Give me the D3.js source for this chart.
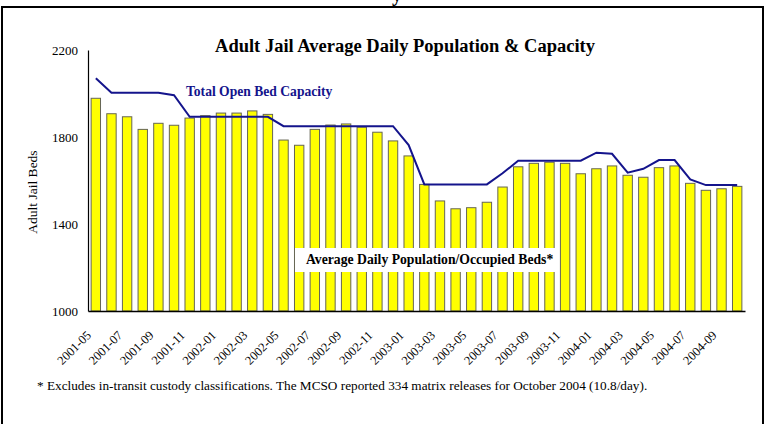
<!DOCTYPE html>
<html>
<head>
<meta charset="utf-8">
<script src="https://cdn.jsdelivr.net/npm/d3@7"></script>
<style>
  html, body { margin: 0; padding: 0; background: #fff; }
  svg { display: block; font-family: "Liberation Serif", "Times New Roman", Times, serif; }
</style>
</head>
<body>
<script>
const months = ["2001-05","2001-06","2001-07","2001-08","2001-09","2001-10","2001-11","2001-12",
  "2002-01","2002-02","2002-03","2002-04","2002-05","2002-06","2002-07","2002-08","2002-09","2002-10","2002-11","2002-12",
  "2003-01","2003-02","2003-03","2003-04","2003-05","2003-06","2003-07","2003-08","2003-09","2003-10","2003-11","2003-12",
  "2004-01","2004-02","2004-03","2004-04","2004-05","2004-06","2004-07","2004-08","2004-09","2004-10"];
const population = [1978,1907,1893,1835,1863,1854,1887,1898,1910,1910,1920,1904,1786,1762,1835,1855,1860,1845,1822,1782,
  1713,1582,1506,1470,1475,1500,1570,1663,1679,1684,1679,1631,1654,1667,1624,1615,1659,1667,1587,1555,1562,1573];
const capacity = [2070,2003,2003,2003,2003,1992,1893,1893,1893,1893,1893,1893,1850,1850,1850,1850,1850,1850,1850,1850,
  1763,1582,1582,1582,1582,1582,1633,1691,1691,1691,1691,1691,1728,1723,1636,1654,1694,1694,1605,1579,1579,1579];
const yTicks = [1000,1400,1800,2200];
const tickLabels = months.filter((m, i) => i % 2 === 0);

const W = 768, H = 424;
const svg = d3.select("body").append("svg").attr("width", W).attr("height", H);

// outer frame (bottom edge lies outside the view)
svg.append("rect").attr("x", 2).attr("y", 7).attr("width", 761).attr("height", 430)
  .attr("fill", "none").attr("stroke", "#000").attr("stroke-width", 2);

// fragment of heading above the frame
svg.append("text").attr("x", 392).attr("y", 1).attr("font-size", 20).attr("font-weight", "bold").text("y");

const x = d3.scaleBand().domain(months).range([88, 745]).paddingInner(0.4).paddingOuter(0.2);
const y = d3.scaleLinear().domain([1000, 2200]).range([311, 50]);

// bars
svg.append("g").selectAll("rect").data(population).join("rect")
  .attr("x", (d, i) => x(months[i]))
  .attr("y", d => y(d))
  .attr("width", x.bandwidth())
  .attr("height", d => y(1000) - y(d))
  .attr("fill", "#ffff00")
  .attr("stroke", "#666655")
  .attr("stroke-width", 1);

// capacity line
const line = d3.line().x((d, i) => x(months[i]) + x.bandwidth() / 2).y(d => y(d));
svg.append("path").datum(capacity).attr("d", line)
  .attr("fill", "none").attr("stroke", "#14148c").attr("stroke-width", 2);

// y axis
const yAxis = svg.append("g").attr("transform", "translate(88,0)")
  .call(d3.axisLeft(y).tickValues(yTicks).tickSize(0).tickPadding(10).tickFormat(d3.format("d")));
yAxis.select(".domain").attr("stroke", "#000").attr("stroke-width", 1.2);
yAxis.selectAll("text").attr("font-size", 13).attr("font-family", "Liberation Serif, Times New Roman, serif").attr("fill", "#000");

// x axis
const xAxis = svg.append("g").attr("transform", "translate(0,311)")
  .call(d3.axisBottom(x).tickValues(tickLabels).tickSize(0).tickSizeOuter(0));
xAxis.select(".domain").attr("stroke", "#000").attr("stroke-width", 1.5);
xAxis.selectAll("text")
  .attr("font-size", 12.5).attr("font-family", "Liberation Serif, Times New Roman, serif").attr("fill", "#000")
  .attr("text-anchor", "end").attr("dy", null).attr("y", 0)
  .attr("transform", "translate(-4,25) rotate(-45)");

// y axis title
svg.append("text").attr("transform", "translate(37,192) rotate(-90)")
  .attr("text-anchor", "middle").attr("font-size", 13.5).text("Adult Jail Beds");

// chart title
svg.append("text").attr("x", 405).attr("y", 52).attr("text-anchor", "middle")
  .attr("font-size", 18.5).attr("font-weight", "bold").text("Adult Jail Average Daily Population & Capacity");

// capacity label
svg.append("text").attr("x", 186).attr("y", 96).attr("font-size", 13.6).attr("font-weight", "bold")
  .attr("fill", "#14148c").text("Total Open Bed Capacity");

// population label with white box
svg.append("rect").attr("x", 295).attr("y", 248).attr("width", 262).attr("height", 24).attr("fill", "#fff");
svg.append("text").attr("x", 306).attr("y", 264).attr("font-size", 13.7).attr("font-weight", "bold")
  .text("Average Daily Population/Occupied Beds*");

// footnote
svg.append("text").attr("x", 37).attr("y", 390).attr("font-size", 13.25)
  .text("* Excludes in-transit custody classifications. The MCSO reported 334 matrix releases for October 2004 (10.8/day).");
</script>
</body>
</html>
